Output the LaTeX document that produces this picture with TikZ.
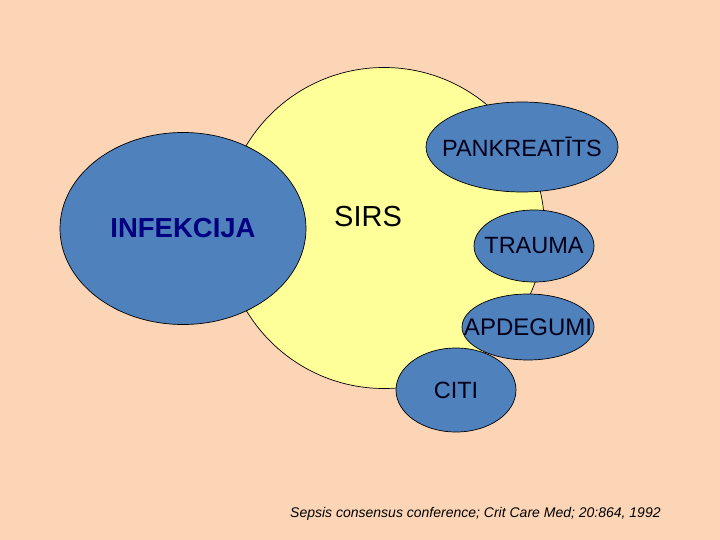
\documentclass[tikz,border=0pt]{standalone}
\usepackage{fontspec}
\setmainfont{Liberation Sans}
\usetikzlibrary{shapes.geometric}
\definecolor{bgpeach}{HTML}{FBD5B5}
\definecolor{sirsyellow}{HTML}{FFFF99}
\definecolor{setblue}{HTML}{4F81BD}
\definecolor{navytext}{HTML}{000080}
\tikzset{
  blob/.style={ellipse, draw=black, line width=0.7pt, fill=setblue, inner sep=0pt},
  lbl/.style={inner sep=0pt, font=\fontsize{23.5}{26}\selectfont, text=black!90!blue}
}
\begin{document}
\begin{tikzpicture}[x=1pt,y=-1pt]
  \fill[bgpeach] (0,0) rectangle (720,540);
  \useasboundingbox (0,0) rectangle (720,540);
  % SIRS circle
  \node[circle, draw=black, line width=0.7pt, fill=sirsyellow, minimum size=321pt, inner sep=0pt] (sirs) at (384,228) {};
  \node[inner sep=0pt, font=\fontsize{29}{32}\selectfont] (sirslbl) at (368,217) {SIRS};
  % INFEKCIJA
  \node[blob, minimum width=246pt, minimum height=192pt] (inf) at (183,228.5) {};
  \node[inner sep=0pt, font=\bfseries\fontsize{27.5}{30}\selectfont, text=navytext] (inflbl) at (inf.center) {INFEKCIJA};
  % PANKREATITS
  \node[blob, minimum width=192pt, minimum height=90pt] (pank) at (522,147) {};
  \node[lbl] (panklbl) at (pank.center) {PANKREATĪTS};
  % TRAUMA
  \node[blob, minimum width=120pt, minimum height=72pt] (trauma) at (534,246) {};
  \node[lbl] (traumalbl) at (trauma.center) {TRAUMA};
  % APDEGUMI
  \node[blob, minimum width=132pt, minimum height=66pt] (apd) at (528,327) {};
  \node[lbl, font=\fontsize{24}{26}\selectfont] (apdlbl) at (apd.center) {APDEGUMI};
  % CITI
  \node[blob, minimum width=120pt, minimum height=84pt] (citi) at (456,390) {};
  \node[lbl] (citilbl) at (citi.center) {CITI};
  % reference
  \node[inner sep=0pt, font=\itshape\fontsize{14}{16}\selectfont, anchor=west] (ref) at (290,514) {Sepsis consensus conference; Crit Care Med; 20:864, 1992};
\end{tikzpicture}
\end{document}
